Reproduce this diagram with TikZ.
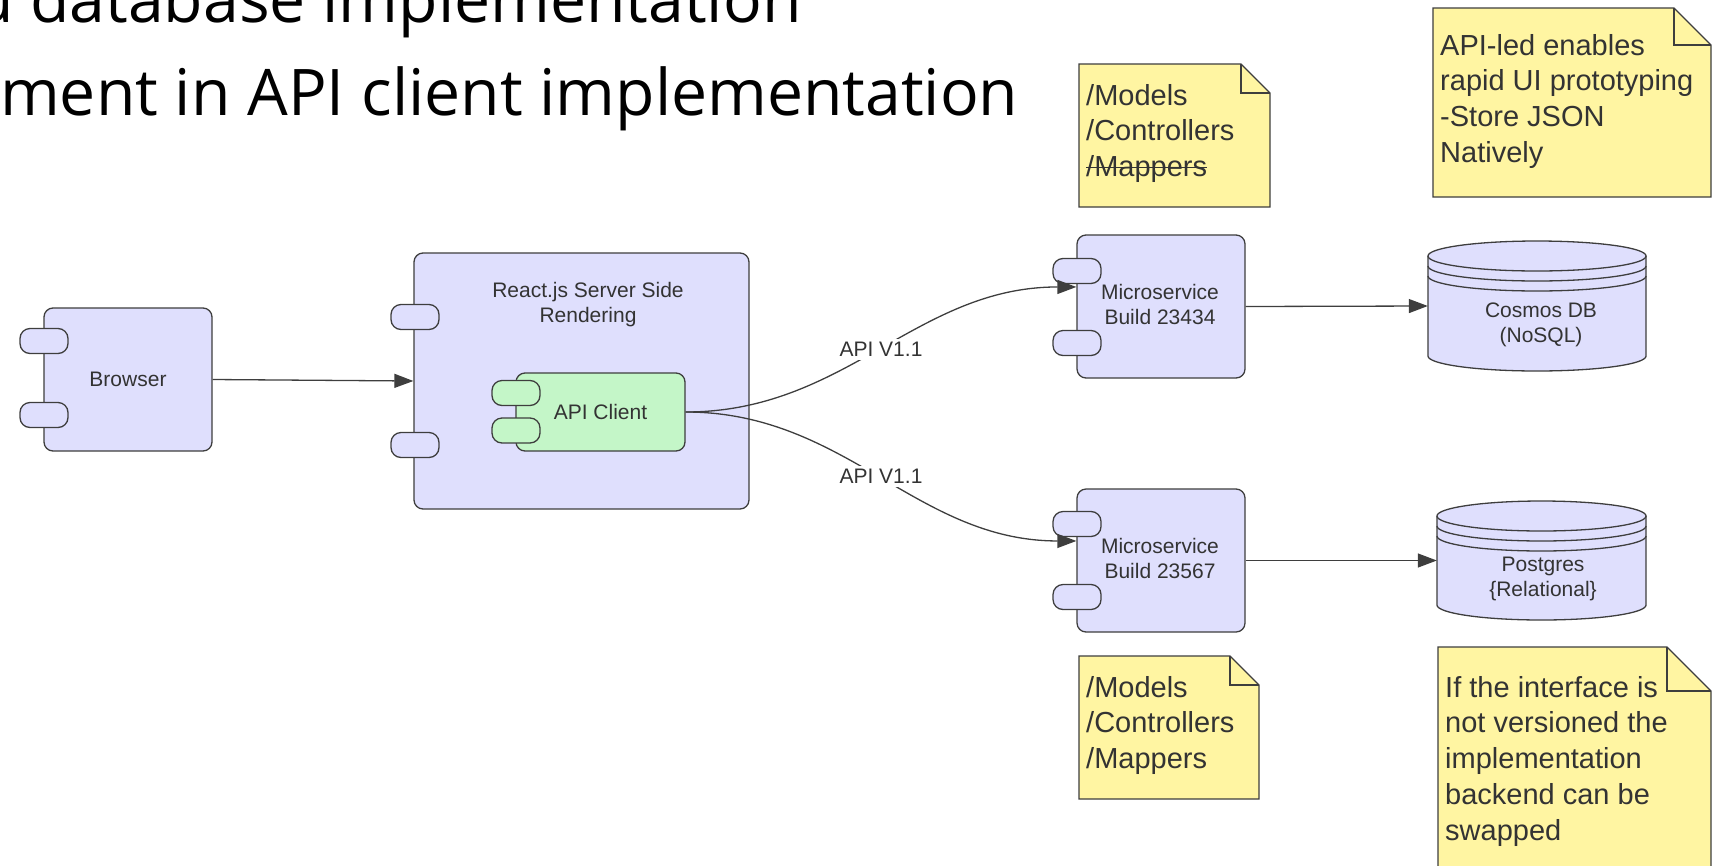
\documentclass[tikz,border=0pt]{standalone}
\usepackage{fontspec}
\setmainfont{Liberation Sans}
\newfontfamily\titlefont{Open Sans}
\usetikzlibrary{arrows.meta}

\definecolor{compblue}{RGB}{223,223,253}
\definecolor{clientgreen}{RGB}{196,246,200}
\definecolor{notefill}{RGB}{255,245,162}
\definecolor{linegray}{RGB}{62,62,62}
\definecolor{txtgray}{RGB}{51,51,51}

\tikzset{
  comp/.style={draw=linegray, fill=compblue, rounded corners=9pt, line width=1.3pt,
    inner sep=0pt, text=txtgray, font=\fontsize{21}{25}\selectfont, align=center},
  port/.style={comp, rounded corners=10pt, minimum width=48pt, minimum height=25pt},
  lbl/.style={text=txtgray, font=\fontsize{21}{25}\selectfont, align=center, inner sep=0pt},
  apilbl/.style={lbl, fill=white, inner sep=3pt},
  anchorbox/.style={inner sep=0pt},
  flow/.style={->, draw=linegray, line width=1.3pt},
  notetext/.style={text=txtgray, font=\fontsize{29}{35.7}\selectfont, align=left,
    anchor=north west, inner sep=0pt},
  titletext/.style={font=\titlefont\fontsize{64.3}{73}\selectfont, anchor=base west, inner sep=0pt},
}

% texto riscado
\newcommand{\strikeout}[1]{\leavevmode\setbox0\hbox{#1}\rlap{\rule[0.3em]{\wd0}{1.3pt}}\box0}

% nota com canto dobrado: esquerda, topo, direita, base, dobra
\newcommand{\stickynote}[5]{%
  \filldraw[draw=linegray, fill=notefill, line width=1.2pt]
    (#1,#2) -- (#3-#5,#2) -- (#3,#2+#5) -- (#3,#4) -- (#1,#4) -- cycle;
  \draw[draw=linegray, line width=1.2pt] (#3-#5,#2) -- (#3-#5,#2+#5) -- (#3,#2+#5);
}

% cilindro de banco de dados: esquerda, topo, direita, base
\newcommand{\dbshape}[4]{%
  \pgfmathsetmacro{\dbcx}{(#1+#3)/2}
  \pgfmathsetmacro{\dbrx}{(#3-#1)/2}
  \pgfmathsetmacro{\dbtop}{#2+15}
  \pgfmathsetmacro{\dbbot}{#4-15}
  \filldraw[draw=linegray, fill=compblue, line width=1.3pt] (#1,\dbtop) -- (#1,\dbbot)
    -- plot[domain=180:0, samples=50] ({\dbcx+\dbrx*cos(\x)},{\dbbot+15*sin(\x)})
    -- (#3,\dbtop)
    -- plot[domain=0:-180, samples=50] ({\dbcx+\dbrx*cos(\x)},{\dbtop+15*sin(\x)}) -- cycle;
  \foreach \dboff in {0,10,20}
    \draw[draw=linegray, line width=1.3pt]
      plot[domain=180:0, samples=50] ({\dbcx+\dbrx*cos(\x)},{\dbtop+\dboff+15*sin(\x)});
}

\begin{document}
\begin{tikzpicture}
  [x=1pt, y=-1pt, >={Triangle[length=19pt,width=14pt]}]

  \useasboundingbox (0,0) rectangle (1720,865);

  % Título (cortado na borda)
  \node[titletext] (title1) at (-26,22) {u database implementation};
  \node[titletext] (title2) at (0,115) {ment in API client implementation};

  % Browser
  \node[comp, minimum width=168pt, minimum height=143pt] (browser) at (128,379.5) {Browser};
  \node[port] (browserp1) at (44,341) {};
  \node[port] (browserp2) at (44,415) {};

  % React.js com o API Client dentro
  \node[comp, minimum width=335pt, minimum height=256pt] (react) at (581.5,381) {};
  \node[lbl] (reacttitle) at (588,305) {React.js Server Side\\Rendering};
  \node[port] (reactp1) at (415,317) {};
  \node[port] (reactp2) at (415,445) {};
  \node[comp, fill=clientgreen, minimum width=169pt, minimum height=78pt] (api) at (600.5,412) {API Client};
  \node[port, fill=clientgreen] (apip1) at (516,393) {};
  \node[port, fill=clientgreen] (apip2) at (516,430.5) {};

  % Microservices
  \node[comp, minimum width=168pt, minimum height=143pt] (ms1) at (1161,306.5) {};
  \node[lbl] (ms1lbl) at (1160,304) {Microservice\\Build 23434};
  \node[port] (ms1p1) at (1077,271) {};
  \node[port] (ms1p2) at (1077,343) {};
  \node[comp, minimum width=168pt, minimum height=143pt] (ms2) at (1161,560.5) {};
  \node[lbl] (ms2lbl) at (1160,558) {Microservice\\Build 23567};
  \node[port] (ms2p1) at (1077,524) {};
  \node[port] (ms2p2) at (1077,597) {};

  % Bancos de dados
  \dbshape{1428}{241}{1646}{371}
  \node[anchorbox, minimum width=218pt, minimum height=130pt] (cosmos) at (1537,306) {};
  \node[lbl] (cosmoslbl) at (1541,325) {Cosmos DB\\(NoSQL)};
  \dbshape{1437}{501}{1646}{620}
  \node[anchorbox, minimum width=209pt, minimum height=119pt] (postgres) at (1541.5,560.5) {};
  \node[lbl] (postgreslbl) at (1543,579) {Postgres\\\{Relational\}};

  % Conexões
  \draw[flow] (browser.east) -- (react.west);
  \draw[flow] (api.east) to[out=0, in=180] node[apilbl] (apiv1) {API V1.1} (ms1.167);
  \draw[flow] (api.east) to[out=0, in=180] node[apilbl] (apiv2) {API V1.1} (ms2.167);
  \draw[flow] (ms1.east) -- (cosmos.west);
  \draw[flow] (ms2.east) -- (postgres.west);

  % Notas
  \stickynote{1079}{64}{1270}{207}{29}
  \node[notetext] (note1) at (1086,84) {/Models\\/Controllers\\\strikeout{/Mappers}};
  \stickynote{1433}{8}{1711}{197}{37}
  \node[notetext] (note2) at (1440,34) {API-led enables\\rapid UI prototyping\\-Store JSON\\Natively};
  \stickynote{1079}{656}{1259}{799}{29}
  \node[notetext] (note3) at (1086,676) {/Models\\/Controllers\\/Mappers};
  \stickynote{1438}{647}{1711}{880}{44}
  \node[notetext] (note4) at (1445,676) {If the interface is\\not versioned the\\implementation\\backend can be\\swapped};
\end{tikzpicture}
\end{document}
